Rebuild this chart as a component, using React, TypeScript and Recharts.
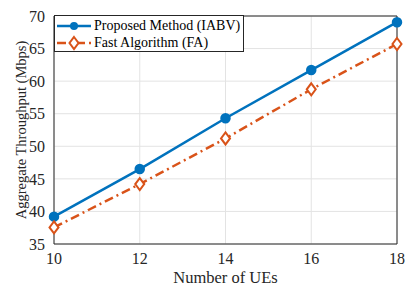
import React from 'react'
import {
  LineChart,
  Line,
  XAxis,
  YAxis,
  CartesianGrid,
  ReferenceLine,
} from 'recharts'

const ues = [10, 12, 14, 16, 18]
const iabv = [39.2, 46.5, 54.3, 61.7, 69.05]
const fa = [37.55, 44.2, 51.2, 58.75, 65.7]
const xTicks = [10, 12, 14, 16, 18]
const yTicks = [35, 40, 45, 50, 55, 60, 65, 70]

const BLUE = '#0072BD'
const ORANGE = '#D95319'
const FONT = '"Liberation Serif", "Times New Roman", serif'

const data = ues.map((u, i) => ({ ues: u, iabv: iabv[i], fa: fa[i] }))

const Diamond = (props: any) => {
  const { cx, cy, key } = props
  if (cx == null || cy == null) return null
  const r = 6
  return (
    <path
      key={key}
      d={`M${cx},${cy - r} L${cx + r * 0.75},${cy} L${cx},${cy + r} L${cx - r * 0.75},${cy} Z`}
      fill="#fff"
      stroke={ORANGE}
      strokeWidth={2}
    />
  )
}

const LegendBox = () => (
  <div
    style={{
      position: 'absolute',
      left: 54,
      top: 15,
      border: '1px solid #262626',
      background: '#fff',
      fontFamily: FONT,
      fontSize: 14,
      color: '#000',
      lineHeight: '17px',
      padding: '1px 3px 0 0',
      whiteSpace: 'nowrap',
    }}
  >
    <div style={{ display: 'flex', alignItems: 'center', height: 17 }}>
      <svg width={38} height={16}>
        <line x1={2} y1={8} x2={36} y2={8} stroke={BLUE} strokeWidth={2.5} />
        <circle cx={19} cy={8} r={4} fill={BLUE} />
      </svg>
      <span style={{ marginLeft: 1 }}>Proposed Method (IABV)</span>
    </div>
    <div style={{ display: 'flex', alignItems: 'center', height: 17 }}>
      <svg width={38} height={16}>
        <line x1={2} y1={8} x2={36} y2={8} stroke={ORANGE} strokeWidth={2.5} strokeDasharray="9 4 2 4" />
        <path d="M19,2 L23.5,8 L19,14 L14.5,8 Z" fill="#fff" stroke={ORANGE} strokeWidth={2} />
      </svg>
      <span style={{ marginLeft: 1 }}>Fast Algorithm (FA)</span>
    </div>
  </div>
)

export default function App() {
  return (
    <div style={{ position: 'absolute', left: 0, top: 0, width: 416, height: 288, background: '#fff' }}>
      <LineChart
        width={416}
        height={288}
        data={data}
        margin={{ top: 16, right: 19, bottom: 19, left: 24 }}
      >
        <CartesianGrid stroke="#e3e3e3" strokeWidth={1} />
        <XAxis
          dataKey="ues"
          type="number"
          domain={[10, 18]}
          ticks={xTicks}
          height={25}
          tickLine={false}
          axisLine={{ stroke: '#262626' }}
          tick={{ fill: '#262626', fontFamily: FONT, fontSize: 16 }}
          tickMargin={3}
          label={{
            value: 'Number of UEs',
            position: 'insideBottom',
            offset: -14,
            fill: '#262626',
            fontFamily: FONT,
            fontSize: 16.5,
          }}
        />
        <YAxis
          type="number"
          domain={[35, 70]}
          ticks={yTicks}
          width={30}
          tickLine={false}
          axisLine={{ stroke: '#262626' }}
          tick={{ fill: '#262626', fontFamily: FONT, fontSize: 16 }}
          tickMargin={3}
          label={{
            value: 'Aggregate Throughput (Mbps)',
            angle: -90,
            position: 'insideLeft',
            offset: -3,
            style: { textAnchor: 'middle' },
            fill: '#262626',
            fontFamily: FONT,
            fontSize: 14.5,
          }}
        />
        <ReferenceLine y={70} stroke="#262626" />
        <ReferenceLine x={18} stroke="#262626" />
        <Line
          dataKey="iabv"
          stroke={BLUE}
          strokeWidth={2.5}
          dot={{ r: 4, fill: BLUE, stroke: BLUE }}
          isAnimationActive={false}
        />
        <Line
          dataKey="fa"
          stroke={ORANGE}
          strokeWidth={2.5}
          strokeDasharray="9 4 2 4"
          dot={Diamond}
          isAnimationActive={false}
        />
      </LineChart>
      <LegendBox />
    </div>
  )
}
